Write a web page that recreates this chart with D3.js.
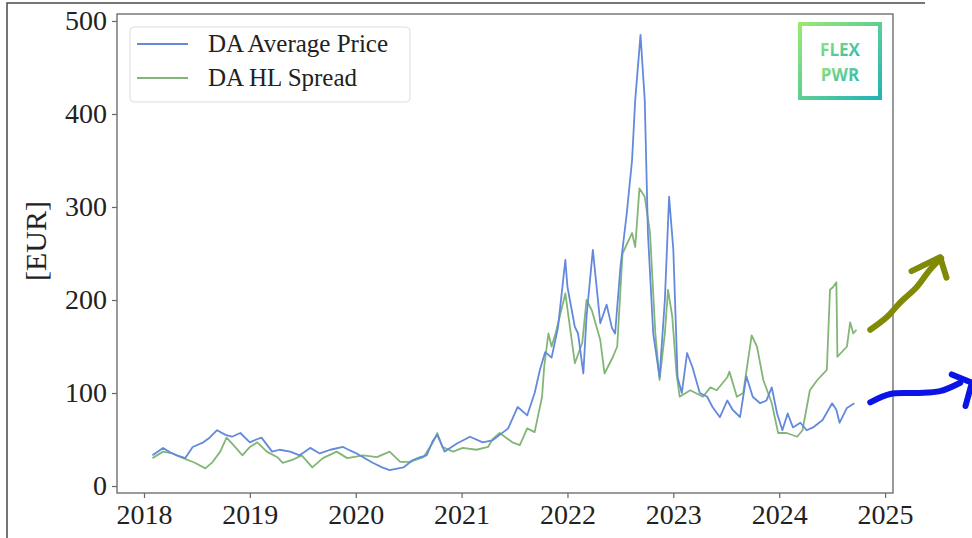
<!DOCTYPE html>
<html>
<head>
<meta charset="utf-8">
<script src="https://cdn.jsdelivr.net/npm/d3@7"></script>
<style>
  body { margin: 0; background: #fff; }
  svg { display: block; }
</style>
</head>
<body>
<div id="chart"></div>
<script>
// Values (decimal years, EUR)
const priceYears = [2018.08, 2018.18, 2018.25, 2018.31, 2018.39, 2018.46, 2018.56, 2018.62, 2018.69, 2018.77, 2018.83, 2018.91,
  2019.00, 2019.06, 2019.11, 2019.21, 2019.28, 2019.38, 2019.47, 2019.57, 2019.66, 2019.76, 2019.88, 2019.95,
  2020.01, 2020.07, 2020.16, 2020.25, 2020.32, 2020.45, 2020.54, 2020.61, 2020.67, 2020.73, 2020.77, 2020.84, 2020.96,
  2021.08, 2021.20, 2021.29, 2021.36, 2021.44, 2021.53, 2021.62, 2021.69, 2021.74, 2021.79, 2021.85, 2021.91, 2021.98,
  2022.00, 2022.07, 2022.10, 2022.15, 2022.18, 2022.24, 2022.27, 2022.31, 2022.37, 2022.42, 2022.45, 2022.50, 2022.56,
  2022.61, 2022.64, 2022.69, 2022.73, 2022.76, 2022.81, 2022.87, 2022.92, 2022.96, 2023.00, 2023.04, 2023.08, 2023.13,
  2023.18, 2023.25, 2023.32, 2023.37, 2023.44, 2023.51, 2023.56, 2023.63, 2023.69, 2023.75, 2023.82, 2023.88, 2023.93,
  2023.98, 2024.03, 2024.08, 2024.13, 2024.20, 2024.26, 2024.32, 2024.41, 2024.50, 2024.54, 2024.57, 2024.64, 2024.71];
const priceValues = [33, 41, 36, 33, 30, 42, 47, 52, 60, 55, 53, 57,
  47, 50, 52, 37, 39, 37, 33, 41, 35, 39, 42, 38,
  35, 31, 25, 20, 17, 20, 28, 31, 33, 49, 55, 37, 46,
  53, 47, 49, 55, 62, 85, 76, 100, 125, 144, 138, 170, 243,
  214, 171, 164, 121, 182, 254, 220, 175, 195, 170, 164, 235, 293,
  350, 415, 485, 415, 272, 164, 117, 200, 311, 254, 117, 100, 143,
  128, 100, 96, 85, 74, 92, 82, 74, 118, 96, 89, 92, 106,
  78, 60, 78, 63, 68, 60, 63, 71, 89, 82, 68, 84, 89];

const spreadYears = [2018.08, 2018.18, 2018.27, 2018.37, 2018.48, 2018.58, 2018.65, 2018.72, 2018.78, 2018.86, 2018.93,
  2019.00, 2019.07, 2019.16, 2019.26, 2019.31, 2019.40, 2019.49, 2019.59, 2019.69, 2019.82, 2019.92,
  2020.07, 2020.20, 2020.32, 2020.42, 2020.51, 2020.64, 2020.73, 2020.77, 2020.82, 2020.92,
  2021.01, 2021.14, 2021.25, 2021.29, 2021.36, 2021.48, 2021.55, 2021.62, 2021.69, 2021.76, 2021.78, 2021.82, 2021.85, 2021.89, 2021.98,
  2022.07, 2022.14, 2022.18, 2022.23, 2022.31, 2022.35, 2022.43, 2022.47, 2022.52, 2022.61, 2022.64, 2022.68, 2022.73, 2022.78, 2022.83,
  2022.87, 2022.92, 2022.95, 2022.99, 2023.03, 2023.06, 2023.16, 2023.28, 2023.35, 2023.41, 2023.51, 2023.53, 2023.60, 2023.66,
  2023.74, 2023.79, 2023.85, 2023.93, 2023.99, 2024.07, 2024.17, 2024.22, 2024.29, 2024.36, 2024.45, 2024.48, 2024.51, 2024.54,
  2024.55, 2024.64, 2024.67, 2024.70, 2024.73];
const spreadValues = [30, 37, 35, 30, 25, 19, 26, 37, 52, 42, 33,
  42, 47, 37, 31, 25, 28, 33, 20, 30, 37, 30,
  33, 31, 37, 26, 26, 31, 47, 57, 42, 37,
  41, 39, 42, 50, 57, 47, 44, 62, 58, 96, 128, 164, 150, 165, 207,
  132, 154, 200, 189, 157, 121, 139, 150, 250, 272, 257, 320, 311, 272, 164,
  114, 164, 211, 182, 121, 96, 103, 96, 106, 103, 117, 123, 96, 100,
  162, 150, 114, 89, 57, 57, 53, 60, 103, 114, 125, 211, 214, 219,
  139, 150, 176, 164, 168];

const seriesNames = ["DA Average Price", "DA HL Spread"];
const seriesColors = ["#6389dd", "#82b676"];
const xTicks = [2018, 2019, 2020, 2021, 2022, 2023, 2024, 2025];
const yTicks = [0, 100, 200, 300, 400, 500];

// Hand-drawn annotations on the screenshot (in data units)
const oliveArrow = [[2024.86, 168], [2025.02, 182], [2025.14, 197], [2025.30, 214], [2025.42, 232], [2025.53, 245]];
const oliveHead = [[2025.25, 231], [2025.52, 246], [2025.58, 224]];
const blueArrow = [[2024.86, 90], [2025.05, 99], [2025.30, 100], [2025.52, 102], [2025.71, 111]];
const blueHead = [[2025.63, 120], [2025.82, 111], [2025.76, 86]];

const width = 972, height = 538;
const margin = { top: 14, right: 79, bottom: 45, left: 117 };

const svg = d3.select("#chart").append("svg")
  .attr("width", width)
  .attr("height", height);

const x = d3.scaleLinear()
  .domain([2017.745, 2025.075])
  .range([margin.left, width - margin.right]);
const y = d3.scaleLinear()
  .domain([-7.5, 507.5])
  .range([height - margin.bottom, margin.top]);

const serif = "'Liberation Serif', 'DejaVu Serif', serif";

// screenshot frame
svg.append("path")
  .attr("d", "M7,538 V3 H925")
  .attr("fill", "none")
  .attr("stroke", "#4a4a4a")
  .attr("stroke-width", 1.5);

// axes
const xAxis = d3.axisBottom(x).tickValues(xTicks).tickFormat(d3.format("d")).tickSize(5).tickPadding(6);
const yAxis = d3.axisLeft(y).tickValues(yTicks).tickSize(5).tickPadding(5);

const gx = svg.append("g")
  .attr("transform", `translate(0,${height - margin.bottom})`)
  .call(xAxis);
const gy = svg.append("g")
  .attr("transform", `translate(${margin.left},0)`)
  .call(yAxis);

[gx, gy].forEach(g => {
  g.select(".domain").remove();
  g.selectAll(".tick line").attr("stroke", "#666").attr("stroke-width", 1.2);
  g.selectAll(".tick text")
    .attr("fill", "#222")
    .style("font-family", serif)
    .style("font-size", "28px");
});

// spines
svg.append("rect")
  .attr("x", margin.left)
  .attr("y", margin.top)
  .attr("width", width - margin.right - margin.left)
  .attr("height", height - margin.bottom - margin.top)
  .attr("fill", "none")
  .attr("stroke", "#707070")
  .attr("stroke-width", 1.4);

// y label
svg.append("text")
  .attr("transform", "rotate(-90)")
  .attr("x", -241)
  .attr("y", 46)
  .style("text-anchor", "middle")
  .style("font-family", serif)
  .style("font-size", "30px")
  .attr("fill", "#222")
  .text("[EUR]");

// lines
const line = d3.line()
  .x(d => x(d[0]))
  .y(d => y(d[1]));

const series = [
  d3.zip(priceYears, priceValues),
  d3.zip(spreadYears, spreadValues)
];

// draw spread first so the price line sits on top
[1, 0].forEach(i => {
  svg.append("path")
    .datum(series[i])
    .attr("fill", "none")
    .attr("stroke", seriesColors[i])
    .attr("stroke-width", 1.8)
    .attr("stroke-linejoin", "round")
    .attr("d", line);
});

// legend
const legend = svg.append("g");
legend.append("rect")
  .attr("x", 130).attr("y", 27)
  .attr("width", 280).attr("height", 75)
  .attr("rx", 4)
  .attr("fill", "#fff")
  .attr("fill-opacity", 0.85)
  .attr("stroke", "#dddddd")
  .attr("stroke-width", 1);
seriesNames.forEach((name, i) => {
  const cy = 44 + i * 34;
  legend.append("line")
    .attr("x1", 137).attr("x2", 188)
    .attr("y1", cy).attr("y2", cy)
    .attr("stroke", seriesColors[i])
    .attr("stroke-width", 1.8);
  legend.append("text")
    .attr("x", 208).attr("y", cy + 8)
    .style("font-family", serif)
    .style("font-size", "25px")
    .attr("fill", "#222")
    .text(name);
});

// FLEX PWR logo
const defs = svg.append("defs");
const grad = defs.append("linearGradient")
  .attr("id", "logoGrad")
  .attr("x1", "0%").attr("y1", "0%")
  .attr("x2", "100%").attr("y2", "100%");
grad.append("stop").attr("offset", "0%").attr("stop-color", "#9be870");
grad.append("stop").attr("offset", "100%").attr("stop-color", "#23b3b8");

const logo = svg.append("g");
logo.append("rect")
  .attr("x", 800).attr("y", 24)
  .attr("width", 80).attr("height", 74)
  .attr("fill", "none")
  .attr("stroke", "url(#logoGrad)")
  .attr("stroke-width", 4);
["FLEX", "PWR"].forEach((t, i) => {
  logo.append("text")
    .attr("x", 840).attr("y", 56 + i * 25)
    .style("text-anchor", "middle")
    .style("font-family", "'Open Sans', sans-serif")
    .style("font-weight", 700)
    .style("font-size", "17px")
    .attr("fill", "url(#logoGrad)")
    .text(t);
});

// hand-drawn arrows
const annot = d3.line()
  .x(d => x(d[0]))
  .y(d => y(d[1]))
  .curve(d3.curveCatmullRom);
[[oliveArrow, oliveHead, "#7f8a05"], [blueArrow, blueHead, "#0a14e6"]].forEach(([shaft, head, c]) => {
  svg.append("path").attr("d", annot(shaft))
    .attr("fill", "none").attr("stroke", c)
    .attr("stroke-width", 6).attr("stroke-linecap", "round");
  svg.append("path").attr("d", d3.line().x(d => x(d[0])).y(d => y(d[1]))(head))
    .attr("fill", "none").attr("stroke", c)
    .attr("stroke-width", 6).attr("stroke-linecap", "round").attr("stroke-linejoin", "round");
});
</script>
</body>
</html>
